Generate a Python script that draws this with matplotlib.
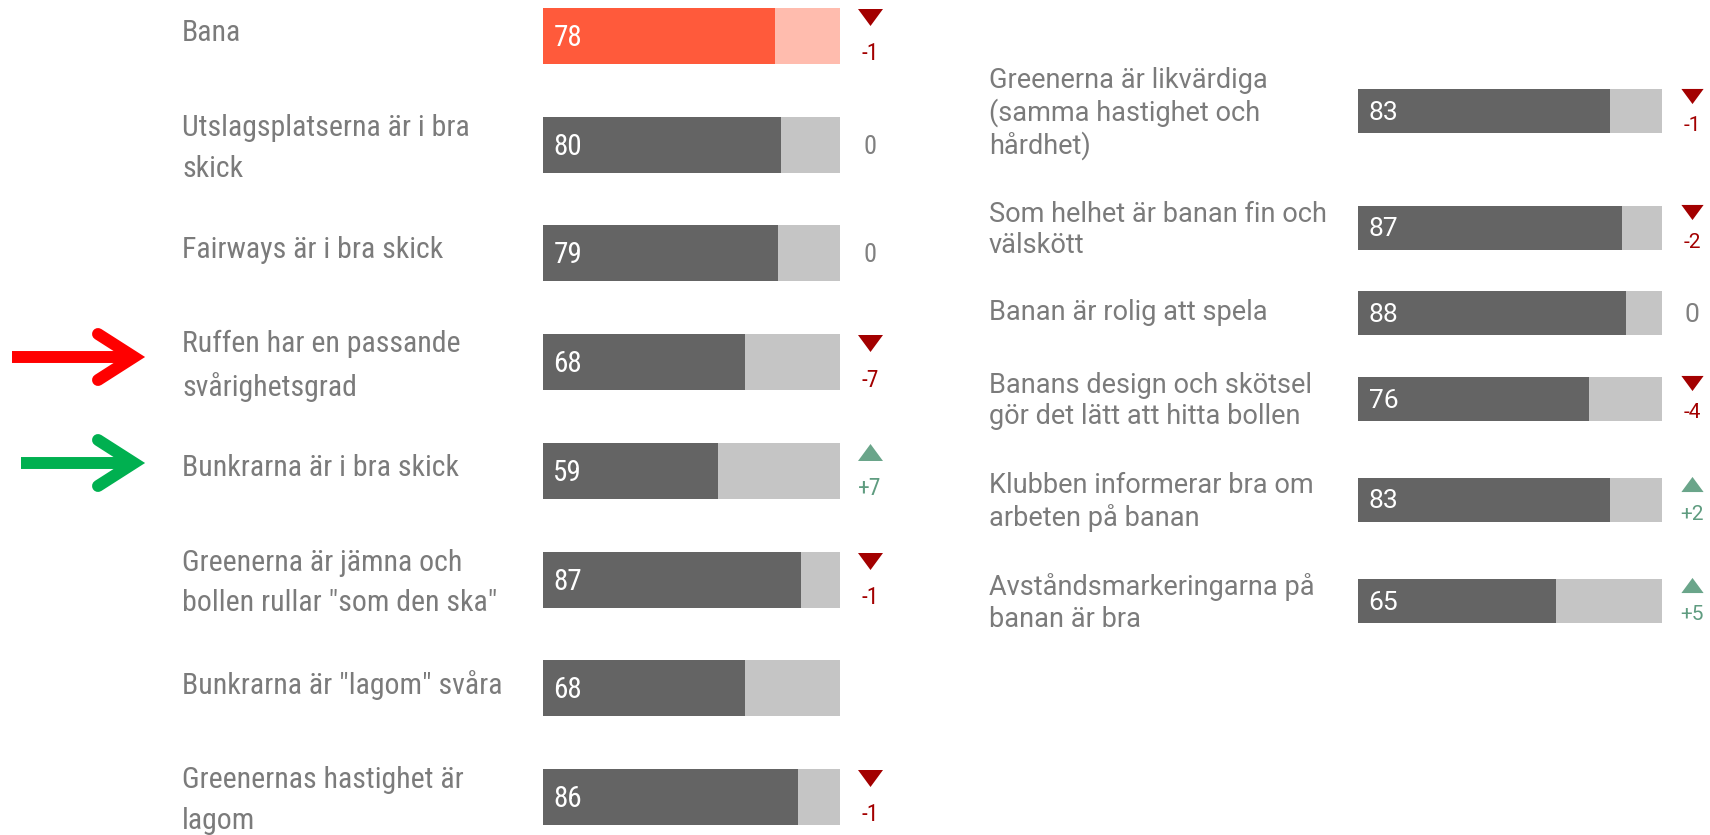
import matplotlib
matplotlib.use("Agg")
import matplotlib.pyplot as plt
from matplotlib import font_manager
from matplotlib.lines import Line2D

# ---- data -------------------------------------------------------------
left_labels = [
    "Bana",
    "Utslagsplatserna är i bra\nskick",
    "Fairways är i bra skick",
    "Ruffen har en passande\nsvårighetsgrad",
    "Bunkrarna är i bra skick",
    "Greenerna är jämna och\nbollen rullar \"som den ska\"",
    "Bunkrarna är \"lagom\" svåra",
    "Greenernas hastighet är\nlagom",
]
left_scores = [78, 80, 79, 68, 59, 87, 68, 86]
left_changes = [-1, 0, 0, -7, 7, -1, None, -1]

right_labels = [
    "Greenerna är likvärdiga\n(samma hastighet och\nhårdhet)",
    "Som helhet är banan fin och\nvälskött",
    "Banan är rolig att spela",
    "Banans design och skötsel\ngör det lätt att hitta bollen",
    "Klubben informerar bra om\narbeten på banan",
    "Avståndsmarkeringarna på\nbanan är bra",
]
right_scores = [83, 87, 88, 76, 83, 65]
right_changes = [-1, -2, 0, -4, 2, 5]

# ---- style ------------------------------------------------------------
W, H = 1710, 835
FONT = "Roboto"
# the left column looks horizontally squeezed; use a condensed face if there is one
names = {f.name for f in font_manager.fontManager.ttflist}
if "Roboto Condensed" in names:
    LEFT_FONT, LEFT_SIZE, LEFT_LS = "Roboto Condensed", 21.5, 1.58
else:
    LEFT_FONT, LEFT_SIZE, LEFT_LS = FONT, 19, 1.75

TXT = "#7b7b7b"
DARK, LIGHT = "#646464", "#c5c5c5"
HI_DARK, HI_LIGHT = "#ff5a3b", "#ffbcae"
DOWN, UP = "#a30000", "#5f9c80"
UP_TRI = "#6aa58a"

TRI_DOWN = [(-1, 0.68), (1, 0.68), (0, -0.68)]
TRI_UP = [(-1, -0.68), (1, -0.68), (0, 0.68)]

fig = plt.figure(figsize=(W / 100, H / 100), dpi=100)


def panel(x0, x1, ys, labels, scores, changes, bar_h, lab_font, lab_size,
          lab_ls, lab_dy, val_size, chg_size, tri_size, tri_dy, txt_dy,
          highlight_first):
    ax = fig.add_axes([x0 / W, 0, (x1 - x0) / W, 1])
    ax.set_xlim(0, 100)
    ax.set_ylim(H, 0)
    ax.axis("off")
    for i, (y, lab, v, c) in enumerate(zip(ys, labels, scores, changes)):
        hi = highlight_first and i == 0
        ax.barh(y, 100, height=bar_h, color=HI_LIGHT if hi else LIGHT)
        ax.barh(y, v, height=bar_h, color=HI_DARK if hi else DARK)
        ax.text(3.5, y + 2, str(v), color="white", fontsize=val_size,
                family=lab_font, ha="left", va="center")
        dy = lab_dy[0] if "\n" not in lab else lab_dy[1]
        ax.text(-121.5, y + dy, lab, color=TXT, fontsize=lab_size,
                family=lab_font, ha="left", va="center", linespacing=lab_ls,
                clip_on=False)
        if c is None:
            continue
        if c == 0:
            ax.text(110, y + 2, "0", color="#808080", fontsize=19,
                    family=lab_font, ha="center", va="center", clip_on=False)
        else:
            col = DOWN if c < 0 else UP
            ax.plot(110, y + tri_dy, marker=TRI_DOWN if c < 0 else TRI_UP,
                    ms=tri_size, color=DOWN if c < 0 else UP_TRI,
                    mew=0, clip_on=False)
            ax.text(110, y + txt_dy, f"{c:+d}", color=col, fontsize=chg_size,
                    family=lab_font, ha="center", va="center", clip_on=False)
    return ax


# left column: fixed row pitch
left_y = [36 + 108.7 * i for i in range(len(left_labels))]
panel(543, 840, left_y, left_labels, left_scores, left_changes,
      bar_h=56, lab_font=LEFT_FONT, lab_size=LEFT_SIZE, lab_ls=LEFT_LS,
      lab_dy=(-3, 3.5), val_size=21, chg_size=17, tri_size=18, tri_dy=-19,
      txt_dy=18, highlight_first=True)

# right column: row pitch grows with the number of label lines
n_lines = [lab.count("\n") + 1 for lab in right_labels]
right_y = [111]
for a, b in zip(n_lines[:-1], n_lines[1:]):
    right_y.append(right_y[-1] + 39 + 15.5 * (a + b))
panel(1358, 1662, right_y, right_labels, right_scores, right_changes,
      bar_h=44, lab_font=FONT, lab_size=19.5, lab_ls=1.2, lab_dy=(-1, 2.5),
      val_size=19, chg_size=15, tri_size=16, tri_dy=-15.5, txt_dy=14.5,
      highlight_first=False)


# ---- pointer arrows ---------------------------------------------------
def arrow(x0, x1, y, color):
    fx = lambda x: x / W
    fy = lambda v: 1 - v / H
    fig.add_artist(Line2D([fx(x0), fx(x1 - 4)], [fy(y), fy(y)], color=color,
                          lw=8.6, solid_capstyle="butt"))
    fig.add_artist(Line2D([fx(x1 - 36), fx(x1), fx(x1 - 36)],
                          [fy(y - 23), fy(y), fy(y + 23)], color=color, lw=8.6,
                          solid_capstyle="round", solid_joinstyle="miter"))


arrow(12, 134, 357, "#ff0000")
arrow(21, 134, 463, "#00b050")

fig.savefig("out.png", dpi=100, facecolor="white")
